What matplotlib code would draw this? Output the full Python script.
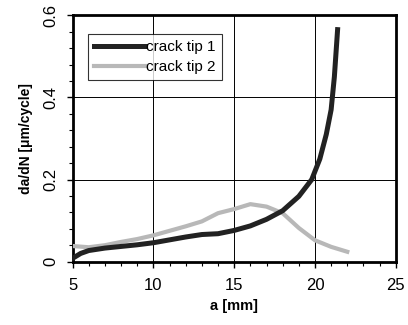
import matplotlib
matplotlib.use("Agg")
import matplotlib.pyplot as plt
from matplotlib.ticker import MultipleLocator

plt.rcParams['font.family'] = ['Liberation Sans', 'DejaVu Sans']

# crack tip 1 (black)
a1 = [5, 5.5, 6, 7, 8, 9, 10, 11, 12, 13, 14, 15, 16, 17, 18, 19, 19.8, 20.3, 20.7, 21.0, 21.2, 21.4]
v1 = [0.008, 0.02, 0.027, 0.033, 0.037, 0.041, 0.046, 0.053, 0.060, 0.066, 0.068, 0.076, 0.087,
      0.103, 0.124, 0.159, 0.20, 0.25, 0.31, 0.37, 0.45, 0.565]
# crack tip 2 (grey)
a2 = [5, 6, 7, 8, 9, 10, 11, 12, 13, 14, 15, 16, 17, 18, 19, 20, 21, 22]
v2 = [0.038, 0.035, 0.040, 0.048, 0.055, 0.064, 0.075, 0.086, 0.098, 0.118, 0.128, 0.140,
      0.134, 0.118, 0.082, 0.052, 0.036, 0.024]

fig = plt.figure(figsize=(4.08, 3.25), dpi=100)
ax = fig.add_axes([0.178, 0.195, 0.792, 0.758])

ax.plot(a2, v2, color='#b8b8b8', lw=3.0, label='crack tip 2', zorder=3)
ax.plot(a1, v1, color='#222222', lw=3.6, label='crack tip 1', zorder=4)

ax.set_xlim(5, 25)
ax.set_ylim(0, 0.6)
ax.xaxis.set_major_locator(MultipleLocator(5))
ax.xaxis.set_minor_locator(MultipleLocator(1))
ax.yaxis.set_minor_locator(MultipleLocator(0.04))
ax.set_yticks([0, 0.2, 0.4, 0.6])
ax.set_yticklabels(['0', '0.2', '0.4', '0.6'])
ax.grid(True, which='major', color='black', lw=0.7)
ax.tick_params(axis='both', which='major', labelsize=12, direction='out', length=4, width=1)
ax.tick_params(axis='x', which='major', pad=8)
ax.tick_params(axis='y', which='major', pad=6)
ax.tick_params(axis='both', which='minor', direction='out', length=3, width=0.8)
ax.tick_params(axis='y', labelrotation=90)
for lab in ax.get_yticklabels():
    lab.set_va('center')
for s in ax.spines.values():
    s.set_linewidth(2)

ax.set_xlabel('a [mm]', fontsize=10.5, fontweight='bold', labelpad=4)
ax.set_ylabel('da/dN [\u03bcm/cycle]', fontsize=10, fontweight='bold', labelpad=8)

h, l = ax.get_legend_handles_labels()
leg = ax.legend(h[::-1], l[::-1], loc='upper left', fontsize=11, frameon=True, fancybox=False,
                edgecolor='black', handlelength=3.3, handletextpad=0.1, borderpad=0.4,
                labelspacing=0.4, bbox_to_anchor=(0.025, 0.955))
leg.get_frame().set_linewidth(0.8)

fig.savefig('out.png', dpi=100)
